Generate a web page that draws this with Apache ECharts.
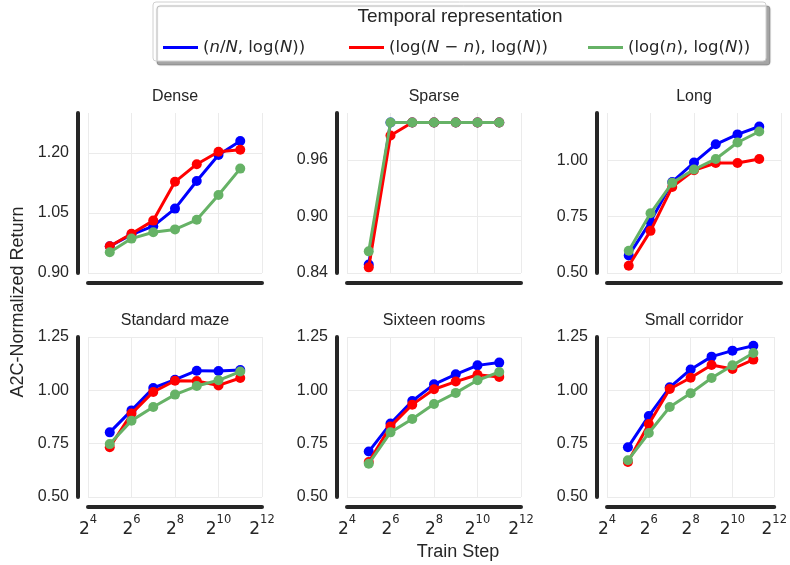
<!DOCTYPE html>
<html>
<head>
<meta charset="utf-8">
<script src="https://cdn.jsdelivr.net/npm/echarts@6/dist/echarts.min.js"></script>
<style>
  html, body { margin: 0; padding: 0; background: #fff; }
  #chart { width: 790px; height: 565px; }
</style>
</head>
<body>
<div id="chart"></div>
<script>
  // train steps (log2 x axis)
  const steps = [32, 64, 128, 256, 512, 1024, 2048]

  const titles = ['Dense', 'Sparse', 'Long', 'Standard maze', 'Sixteen rooms', 'Small corridor']
  const seriesNames = ['nN', 'logNn', 'logn']
  const seriesColors = ['#0000ff', '#ff0000', '#66b266']

  // y axis ticks per panel
  const yMins = [0.90, 0.84, 0.50, 0.50, 0.50, 0.50]
  const yIntervals = [0.15, 0.06, 0.25, 0.25, 0.25, 0.25]
  const yMaxes = [1.30, 1.01, 1.21, 1.25, 1.25, 1.25]

  // values: (n/N, log N), (log(N-n), log N), (log n, log N)
  const denseFrac = [0.967, 0.996, 1.017, 1.061, 1.130, 1.195, 1.230]
  const denseRem = [0.967, 0.998, 1.031, 1.128, 1.172, 1.203, 1.208]
  const denseLog = [0.952, 0.986, 1.002, 1.009, 1.033, 1.095, 1.161]

  const sparseFrac = [0.849, 1.000, 1.000, 1.000, 1.000, 1.000, 1.000]
  const sparseRem = [0.846, 0.986, 1.000, 1.000, 1.000, 1.000, 1.000]
  const sparseLog = [0.863, 1.000, 1.000, 1.000, 1.000, 1.000, 1.000]

  const longFrac = [0.578, 0.728, 0.904, 0.990, 1.071, 1.115, 1.150]
  const longRem = [0.532, 0.687, 0.882, 0.956, 0.988, 0.988, 1.006]
  const longLog = [0.599, 0.765, 0.900, 0.959, 1.006, 1.079, 1.128]

  const mazeFrac = [0.803, 0.906, 1.011, 1.050, 1.092, 1.091, 1.095]
  const mazeRem = [0.733, 0.891, 0.992, 1.045, 1.044, 1.023, 1.058]
  const mazeLog = [0.748, 0.858, 0.922, 0.980, 1.020, 1.047, 1.088]

  const roomsFrac = [0.713, 0.844, 0.950, 1.028, 1.075, 1.117, 1.130]
  const roomsRem = [0.664, 0.831, 0.933, 1.005, 1.041, 1.073, 1.063]
  const roomsLog = [0.656, 0.803, 0.866, 0.936, 0.988, 1.047, 1.086]

  const corridorFrac = [0.733, 0.880, 1.014, 1.098, 1.158, 1.186, 1.209]
  const corridorRem = [0.664, 0.842, 1.006, 1.059, 1.119, 1.100, 1.144]
  const corridorLog = [0.672, 0.800, 0.922, 0.986, 1.058, 1.117, 1.175]

  const panelData = [
    [denseFrac, denseRem, denseLog],
    [sparseFrac, sparseRem, sparseLog],
    [longFrac, longRem, longLog],
    [mazeFrac, mazeRem, mazeLog],
    [roomsFrac, roomsRem, roomsLog],
    [corridorFrac, corridorRem, corridorLog]
  ]

  const legendText = {
    nN: '({i|n}/{i|N}, log({i|N}))',
    logNn: '(log({i|N} − {i|n}), log({i|N}))',
    logn: '(log({i|n}), log({i|N}))'
  }

  const ink = '#262626'
  const colLeft = [88, 347, 607]
  const rowTop = [113, 337]
  const plotW = 174
  const plotH = 160

  let myChart = echarts.init(document.getElementById('chart'))

  let grids = []
  let xAxes = []
  let yAxes = []
  let series = []
  let graphics = []

  for (let i = 0; i < 6; i++) {
    let row = Math.floor(i / 3)
    let col = i % 3
    grids.push({left: colLeft[col], top: rowTop[row], width: plotW, height: plotH})
    xAxes.push({
      type: 'value',
      gridIndex: i,
      min: 4,
      max: 12,
      interval: 2,
      offset: 10,
      axisLine: {show: true, lineStyle: {color: ink, width: 4}},
      axisTick: {show: false},
      splitLine: {show: true, lineStyle: {color: '#ebebeb', width: 1}},
      axisLabel: {
        show: row === 1,
        margin: 7,
        formatter: v => '{b|2}{s|' + v + '}',
        rich: {
          b: {fontSize: 17, fontFamily: 'DejaVu Sans', color: ink, lineHeight: 24, verticalAlign: 'bottom'},
          s: {fontSize: 11.5, fontFamily: 'DejaVu Sans', color: ink, verticalAlign: 'top'}
        }
      }
    })
    yAxes.push({
      type: 'value',
      gridIndex: i,
      min: yMins[i],
      max: yMaxes[i],
      interval: yIntervals[i],
      offset: 10,
      axisLine: {show: true, lineStyle: {color: ink, width: 4}},
      axisTick: {show: false},
      splitLine: {show: true, showMaxLine: row === 1, lineStyle: {color: '#ebebeb', width: 1}},
      axisLabel: {
        showMaxLabel: row === 1,
        margin: 9,
        fontSize: 16,
        fontFamily: 'Liberation Sans',
        color: ink,
        formatter: v => v.toFixed(2)
      }
    })
    for (let k = 0; k < 3; k++) {
      series.push({
        name: seriesNames[k],
        type: 'line',
        xAxisIndex: i,
        yAxisIndex: i,
        data: steps.map((s, j) => [Math.log2(s), panelData[i][k][j]]),
        symbol: 'circle',
        symbolSize: 10,
        lineStyle: {width: 3, color: seriesColors[k]},
        itemStyle: {color: seriesColors[k]},
        emphasis: {disabled: true},
        z: 2 + k
      })
    }
    graphics.push({
      type: 'text',
      x: colLeft[col] + plotW / 2,
      y: rowTop[row] - 16,
      style: {
        text: titles[i], textAlign: 'center', textVerticalAlign: 'middle',
        fontSize: 16, fontFamily: 'Liberation Sans', fill: ink
      }
    })
  }

  // legend box with its shadow
  graphics.push({
    type: 'rect',
    z: 0,
    shape: {x: 153, y: 2, width: 613, height: 59, r: 3},
    style: {
      fill: '#fff', stroke: '#d0d0d0', lineWidth: 1,
      shadowColor: 'rgba(0,0,0,0.35)', shadowOffsetX: 4, shadowOffsetY: 4, shadowBlur: 1
    }
  })
  graphics.push({
    type: 'text',
    x: 460,
    y: 17,
    style: {
      text: 'Temporal representation', textAlign: 'center', textVerticalAlign: 'middle',
      fontSize: 19, fontFamily: 'Liberation Sans', fill: ink
    }
  })
  graphics.push({
    type: 'text',
    x: 18,
    y: 302,
    rotation: Math.PI / 2,
    style: {
      text: 'A2C-Normalized Return', textAlign: 'center', textVerticalAlign: 'middle',
      fontSize: 18, fontFamily: 'Liberation Sans', fill: ink
    }
  })
  graphics.push({
    type: 'text',
    x: 458,
    y: 552,
    style: {
      text: 'Train Step', textAlign: 'center', textVerticalAlign: 'middle',
      fontSize: 18, fontFamily: 'Liberation Sans', fill: ink
    }
  })

  const legendLeft = [158, 344, 583]
  let legends = seriesNames.map((name, k) => ({
    data: [name],
    left: legendLeft[k],
    top: 34,
    icon: 'rect',
    itemWidth: 35,
    itemHeight: 3,
    itemGap: 0,
    selectedMode: false,
    formatter: n => legendText[n],
    textStyle: {
      fontSize: 16.5, fontFamily: 'DejaVu Sans', color: ink,
      rich: {i: {fontSize: 16.5, fontFamily: 'DejaVu Sans', fontStyle: 'italic', color: ink}}
    }
  }))

  myChart.setOption({
    animation: false,
    grid: grids,
    xAxis: xAxes,
    yAxis: yAxes,
    legend: legends,
    graphic: graphics,
    series: series
  })
</script>
</body>
</html>
